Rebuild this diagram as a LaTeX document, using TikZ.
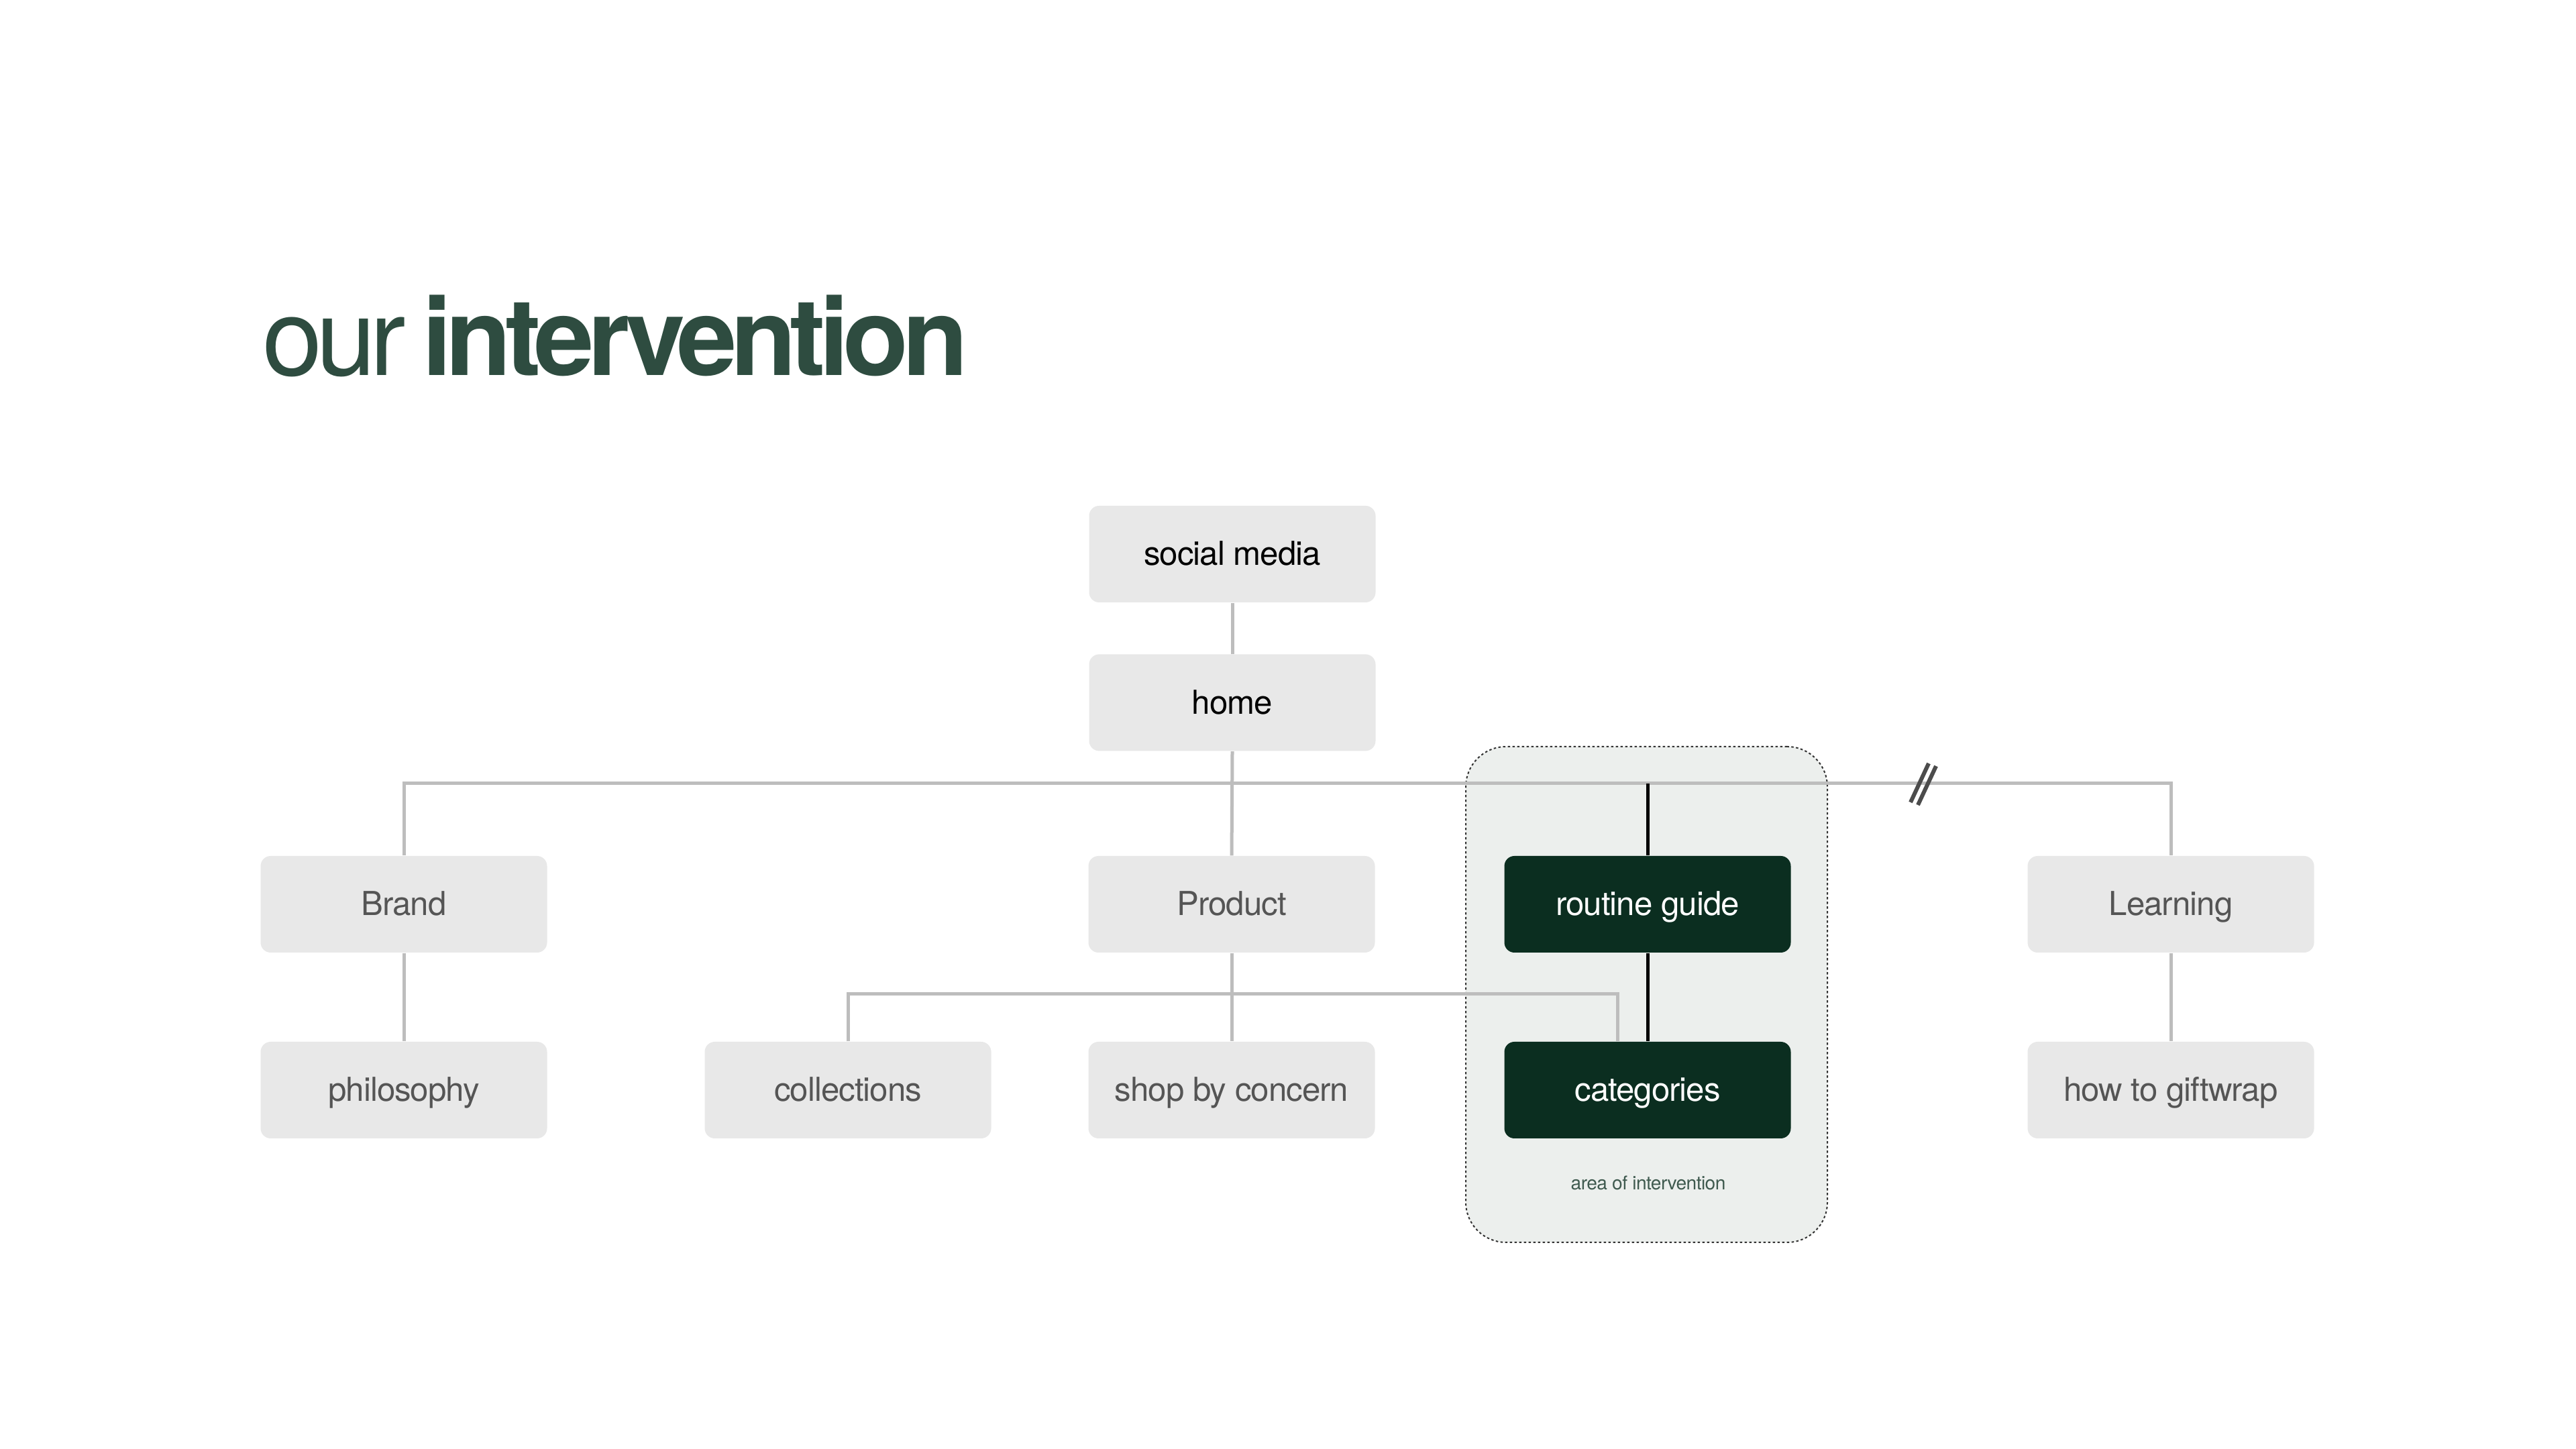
\documentclass[tikz,border=0pt]{standalone}
\usepackage{fontspec}
\setmainfont{TeX Gyre Heros}[LetterSpace=-2]
\newfontfamily\titlefont{TeX Gyre Heros}[LetterSpace=-6]
\usetikzlibrary{positioning, backgrounds}
\definecolor{ivdark}{HTML}{0B2E20}
\definecolor{ivtitle}{HTML}{2E4C40}
\definecolor{ivbox}{HTML}{E8E8E8}
\definecolor{ivline}{HTML}{BDBDBD}
\definecolor{ivtext}{HTML}{555555}
\definecolor{ivarea}{HTML}{ECEFED}
\definecolor{ivnote}{HTML}{3F5A4F}

\begin{document}
\begin{tikzpicture}[every node/.style={font=\fontsize{14pt}{16pt}\selectfont},
  page/.style={rectangle, rounded corners=0.15cm, fill=ivbox, minimum width=4.27cm, minimum height=1.44cm, align=center, inner sep=0pt, text height=0.36cm, text depth=0.02cm},
  pick/.style={page, fill=ivdark, text=white},
  link/.style={ivline, line width=0.05cm},
  hot/.style={black, line width=0.05cm},
]
\useasboundingbox (0,0) rectangle (38.4,21.6);
\node[anchor=base west, text=ivtitle, inner sep=0pt, font=\titlefont\fontsize{45.7pt}{50pt}\selectfont] (title) at (3.91, 16.0) {our \textbf{intervention}};
\node[page] (social) at (18.37, 13.34) {social media};
\node[page, below=0.76cm of social] (home) {home};
\node[page, text=ivtext] (brand) at (6.02, 8.12) {Brand};
\node[page, text=ivtext] (product) at (18.36, 8.12) {Product};
\node[pick] (routine) at (24.56, 8.12) {routine guide};
\node[page, text=ivtext] (learning) at (32.36, 8.12) {Learning};
\node[page, text=ivtext] (philosophy) at (6.02, 5.35) {philosophy};
\node[page, text=ivtext] (collections) at (12.64, 5.35) {collections};
\node[page, text=ivtext] (shopby) at (18.36, 5.35) {shop by concern};
\node[pick] (categories) at (24.56, 5.35) {categories};
\node[page, text=ivtext] (giftwrap) at (32.36, 5.35) {how to giftwrap};
\node[text=ivnote, font=\fontsize{8pt}{9pt}\selectfont, anchor=base] (note) at (24.57, 3.86) {area of intervention};
\coordinate (top) at (0, 9.92);
\coordinate (bus) at (0, 6.78);
\coordinate (brk) at (28.67, 9.92);
\begin{scope}[on background layer]
\fill[white] (0,0) rectangle (38.4,21.6);
\node[rectangle, rounded corners=0.6cm, fill=ivarea, draw=black!80, line width=0.02cm, dash pattern=on 0.035cm off 0.035cm, minimum width=5.39cm, minimum height=7.39cm] (area) at (24.545, 6.775) {};
\draw[link] (social) -- (home);
\draw[link] (home.south) -- (product.north);
\draw[link] (brand.north) -- (brand.north |- top) -- (learning.north |- top) -- (learning.north);
\draw[link] (brand) -- (philosophy);
\draw[link] (product) -- (shopby);
\draw[link] (learning) -- (giftwrap);
\draw[link] (collections.north) -- (collections.north |- bus) -| ([xshift=-0.45cm]categories.north);
\draw[hot] (routine.north |- top) -- (routine.north);
\draw[hot] (routine) -- (categories);
\end{scope}
% break mark
\draw[black!70, line width=0.06cm] ([shift={(0.08,0.30)}]brk) -- ([shift={(-0.19,-0.28)}]brk);
\draw[black!70, line width=0.06cm] ([shift={(0.19,0.26)}]brk) -- ([shift={(-0.08,-0.32)}]brk);
\end{tikzpicture}
\end{document}
